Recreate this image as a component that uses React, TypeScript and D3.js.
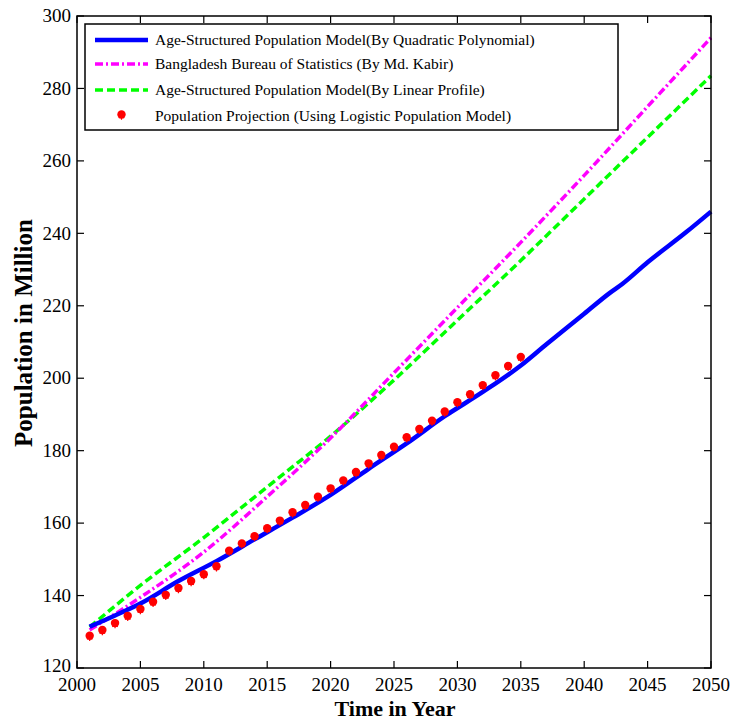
import React, { useEffect, useRef } from "react";
import * as d3 from "d3";

// Age-structured model, quadratic polynomial (blue)
const quadYears = [2001, 2003, 2005, 2008, 2011, 2014, 2017, 2020, 2023, 2026, 2029, 2032, 2035, 2037, 2040, 2042, 2043, 2045, 2048, 2050];
const quadValues = [131.4, 134.5, 137.8, 144.0, 149.5, 155.5, 161.5, 167.8, 175.0, 182.0, 189.5, 196.2, 203.5, 209.3, 217.8, 223.5, 226.0, 232.0, 240.2, 246.0];

// BBS projection (magenta) and linear profile model (green)
const curveYears = [2001, 2005, 2010, 2015, 2020, 2025, 2030, 2035, 2040, 2045, 2050];
const bbsValues = [130.5, 139.5, 152.0, 167.3, 183.5, 201.5, 219.5, 237.5, 256.0, 275.0, 294.0];
const linearValues = [131.3, 142.8, 156.0, 170.0, 184.0, 199.5, 216.0, 232.5, 249.5, 266.5, 283.5];

// Logistic projection (red markers), 2001..2035
const logisticYears = d3.range(2001, 2036);
const logisticValues = [
  128.9, 130.5, 132.4, 134.4, 136.3, 138.3, 140.2, 142.1, 144.0, 145.9,
  148.1, 152.4, 154.4, 156.4, 158.6, 160.7, 163.0, 165.0, 167.3, 169.6,
  171.8, 174.1, 176.5, 178.8, 181.1, 183.7, 186.0, 188.3, 190.8, 193.4,
  195.6, 198.1, 200.8, 203.4, 205.9,
];

const xTicks = d3.range(2000, 2051, 5);
const yTicks = d3.range(120, 301, 20);

const legendLabels = [
  "Age-Structured Population Model(By Quadratic Polynomial)",
  "Bangladesh Bureau of Statistics (By Md. Kabir)",
  "Age-Structured Population Model(By Linear Profile)",
  "Population Projection (Using Logistic Population Model)",
];

const W = 731;
const H = 721;
const FONT = "'Liberation Serif', 'Times New Roman', serif";

export default function App() {
  const svgRef = useRef<SVGSVGElement>(null);

  useEffect(() => {
    const svg = d3.select(svgRef.current);
    svg.selectAll("*").remove();

    const left = 77, right = 711, top = 16, bottom = 668;
    const x = d3.scaleLinear().domain([2000, 2050]).range([left, right]);
    const y = d3.scaleLinear().domain([120, 300]).range([bottom, top]);

    const line = d3.line<[number, number]>()
      .x(d => x(d[0])).y(d => y(d[1]))
      .curve(d3.curveMonotoneX);

    const zip = (a: number[], b: number[]) => a.map((v, i) => [v, b[i]] as [number, number]);

    // lines
    svg.append("path")
      .attr("d", line(zip(curveYears, linearValues)))
      .attr("fill", "none").attr("stroke", "#00ff00").attr("stroke-width", 3.5)
      .attr("stroke-dasharray", "8,4");

    svg.append("path")
      .attr("d", line(zip(curveYears, bbsValues)))
      .attr("fill", "none").attr("stroke", "#ff00ff").attr("stroke-width", 3.5)
      .attr("stroke-dasharray", "8,3,2,3");

    svg.append("path")
      .attr("d", line(zip(quadYears, quadValues)))
      .attr("fill", "none").attr("stroke", "#0000ff").attr("stroke-width", 4.5);

    // markers
    const star = d3.symbol().type(d3.symbolAsterisk).size(28);
    const marker = (g: d3.Selection<any, any, any, any>, cx: number, cy: number) => {
      g.append("path")
        .attr("d", star())
        .attr("transform", `translate(${cx},${cy + 2})`)
        .attr("fill", "none").attr("stroke", "#ff0000").attr("stroke-width", 1.2);
      g.append("circle").attr("cx", cx).attr("cy", cy).attr("r", 4.2).attr("fill", "#ff0000");
    };
    const mg = svg.append("g");
    logisticYears.forEach((yr, i) => marker(mg, x(yr), y(logisticValues[i])));

    // frame
    svg.append("rect")
      .attr("x", left).attr("y", top).attr("width", right - left).attr("height", bottom - top)
      .attr("fill", "none").attr("stroke", "#000").attr("stroke-width", 1.5);

    const tickLen = 7;
    const tg = svg.append("g").attr("stroke", "#000").attr("stroke-width", 1.2);
    xTicks.forEach(t => {
      tg.append("line").attr("x1", x(t)).attr("x2", x(t)).attr("y1", bottom).attr("y2", bottom - tickLen);
      tg.append("line").attr("x1", x(t)).attr("x2", x(t)).attr("y1", top).attr("y2", top + tickLen);
    });
    yTicks.forEach(t => {
      tg.append("line").attr("x1", left).attr("x2", left + tickLen).attr("y1", y(t)).attr("y2", y(t));
      tg.append("line").attr("x1", right).attr("x2", right - tickLen).attr("y1", y(t)).attr("y2", y(t));
    });

    // tick labels
    svg.append("g").selectAll("text").data(xTicks).join("text")
      .attr("x", d => x(d)).attr("y", 691)
      .attr("text-anchor", "middle")
      .style("font-family", FONT).style("font-size", "19px")
      .text(d => d);

    svg.append("g").selectAll("text").data(yTicks).join("text")
      .attr("x", 71).attr("y", d => y(d) - (d === 120 ? 2 : 0))
      .attr("dy", "0.33em")
      .attr("text-anchor", "end")
      .style("font-family", FONT).style("font-size", "19px")
      .text(d => d);

    // axis labels
    svg.append("text")
      .attr("x", 395).attr("y", 716)
      .attr("text-anchor", "middle")
      .style("font-family", FONT).style("font-size", "22px").style("font-weight", "bold")
      .text("Time in Year");

    svg.append("text")
      .attr("transform", `translate(32,${333}) rotate(-90)`)
      .attr("text-anchor", "middle")
      .style("font-family", FONT).style("font-size", "25px").style("font-weight", "bold")
      .text("Population in Million");

    // legend
    const lg = svg.append("g");
    lg.append("rect")
      .attr("x", 85).attr("y", 24).attr("width", 533).attr("height", 106)
      .attr("fill", "#fff").attr("stroke", "#000").attr("stroke-width", 1.5);
    const rowsY = [40, 64, 90, 115.5];
    const styles = [
      { color: "#0000ff", dash: null, w: 4.5 },
      { color: "#ff00ff", dash: "8,3,2,3", w: 3.5 },
      { color: "#00ff00", dash: "8,4", w: 3.5 },
    ];
    styles.forEach((s, i) => {
      lg.append("line")
        .attr("x1", 95).attr("x2", 148).attr("y1", rowsY[i]).attr("y2", rowsY[i])
        .attr("stroke", s.color).attr("stroke-width", s.w)
        .attr("stroke-dasharray", s.dash);
    });
    marker(lg, 121.5, rowsY[3] - 1);
    legendLabels.forEach((label, i) => {
      lg.append("text")
        .attr("x", 155).attr("y", rowsY[i])
        .attr("dy", "0.33em")
        .style("font-family", FONT).style("font-size", "15.5px")
        .text(label);
    });
  }, []);

  return (
    <svg
      ref={svgRef}
      width={W}
      height={H}
      style={{ position: "absolute", left: 0, top: 0, background: "#fff" }}
    />
  );
}
